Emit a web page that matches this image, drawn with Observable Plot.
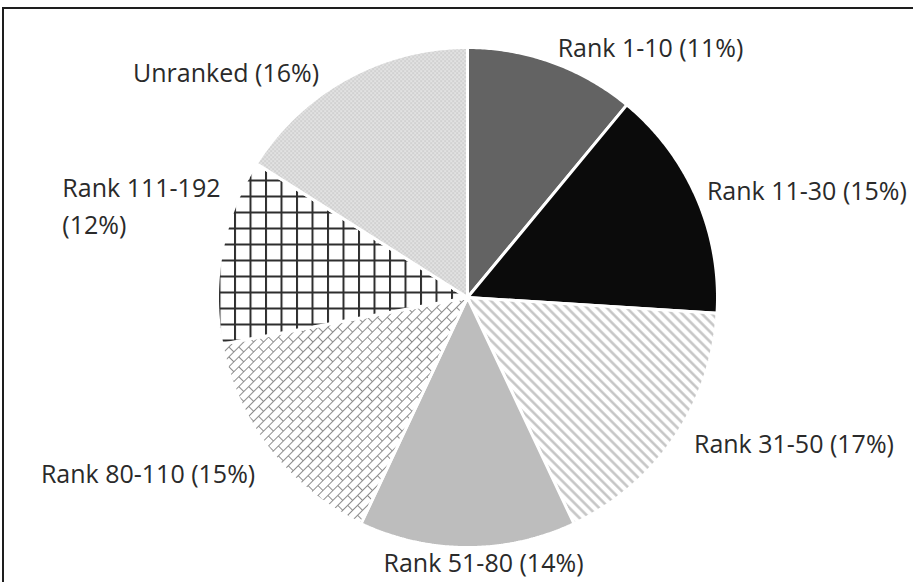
<!DOCTYPE html>
<html>
<head>
<meta charset="utf-8">
<script src="https://cdn.jsdelivr.net/npm/d3@7"></script>
<script src="https://cdn.jsdelivr.net/npm/@observablehq/plot@0.6"></script>
<style>
  html, body { margin: 0; padding: 0; background: #fff; }
  #chart { position: relative; width: 913px; height: 582px; overflow: hidden; }
  #chart svg { display: block; }
  .rule-top { position: absolute; left: 2px; top: 7px; width: 911px; height: 2px; background: #1e1e1e; }
  .rule-left { position: absolute; left: 2px; top: 7px; width: 2px; height: 575px; background: #1e1e1e; }
</style>
</head>
<body>
<div id="chart"><div class="rule-top"></div><div class="rule-left"></div></div>
<script>
// Share of entries by ranking band (percent)
const categories = ["Rank 1-10", "Rank 11-30", "Rank 31-50", "Rank 51-80", "Rank 80-110", "Rank 111-192", "Unranked"];
const shares = [11, 15, 17, 14, 15, 12, 16];

// Slice fills: solid greys or hatch patterns defined below
const sliceFills = ["#636363", "#0b0b0b", "url(#stripes)", "#bdbdbd", "url(#brick)", "url(#grid)", "url(#dots)"];

// Layout
const W = 913, H = 582;
const cx = 467, cy = 297, R = 250;
const labelRadius = 1.1;
// label placement: anchor and small pixel nudges off the radial position
const labelPlacement = [
  {anchor: "start", dx: -3, dy: 6},
  {anchor: "start", dx: -13, dy: 0},
  {anchor: "start", dx: -1, dy: -11},
  {anchor: "middle", dx: 16, dy: -12},
  {anchor: "end", dx: 5, dy: 5},
  {anchor: "start", dx: -135, dy: -42},
  {anchor: "end", dx: -16, dy: 14}
];

const arcs = d3.pie().sort(null).value(d => d)(shares);

// Polygon outline of each slice: centre, then points along its arc
const slicePoints = arcs.flatMap((a, i) => {
  const n = Math.max(2, Math.ceil((a.endAngle - a.startAngle) / (Math.PI / 360)));
  const pts = [{slice: categories[i], fill: sliceFills[i], x: 0, y: 0}];
  for (let k = 0; k <= n; ++k) {
    const t = a.startAngle + (a.endAngle - a.startAngle) * k / n;
    pts.push({slice: categories[i], fill: sliceFills[i], x: Math.sin(t), y: Math.cos(t)});
  }
  return pts;
});

const labels = arcs.map((a, i) => {
  const mid = (a.startAngle + a.endAngle) / 2;
  const p = labelPlacement[i];
  const text = categories[i] === "Rank 111-192"
    ? `${categories[i]}\n(${shares[i]}%)`
    : `${categories[i]} (${shares[i]}%)`;
  return {
    text,
    anchor: p.anchor,
    x: Math.sin(mid) * labelRadius + p.dx / R,
    y: Math.cos(mid) * labelRadius - p.dy / R
  };
});

const textStyle = {fontSize: 25, fontFamily: "'Open Sans', sans-serif", fill: "#2a2a2a", lineAnchor: "middle", lineHeight: 1.48};

const chart = Plot.plot({
  width: W,
  height: H,
  margin: 0,
  x: {domain: [-1, 1], range: [cx - R, cx + R], axis: null},
  y: {domain: [-1, 1], range: [cy + R, cy - R], axis: null},
  color: {type: "identity"},
  style: {background: "transparent", fontFamily: "'Open Sans', sans-serif"},
  marks: [
    Plot.line(slicePoints, {x: "x", y: "y", z: "slice", fill: "fill", stroke: "white", strokeWidth: 3, curve: "linear-closed", strokeLinejoin: "miter"}),
    ...["start", "middle", "end"].map(anchor =>
      Plot.text(labels.filter(d => d.anchor === anchor), {x: "x", y: "y", text: "text", textAnchor: anchor, ...textStyle})
    )
  ]
});

// Hatch patterns used by the slices
d3.select(chart).insert("defs", ":first-child").html(`
  <pattern id="stripes" patternUnits="userSpaceOnUse" width="7" height="7" patternTransform="rotate(-45)">
    <rect width="7" height="7" fill="#fff"/>
    <line x1="1.5" y1="0" x2="1.5" y2="7" stroke="#c2c2c2" stroke-width="2.4"/>
  </pattern>
  <pattern id="brick" patternUnits="userSpaceOnUse" width="14" height="14" patternTransform="rotate(-45)">
    <rect width="14" height="14" fill="#fff"/>
    <path d="M0,0.5H14M0,7.5H14M0.5,0V7M7.5,7V14" stroke="#8c8c8c" stroke-width="1" fill="none"/>
  </pattern>
  <pattern id="grid" patternUnits="userSpaceOnUse" width="15.5" height="16" x="1" y="3">
    <rect width="15.5" height="16" fill="#fff"/>
    <path d="M1,0V16M0,1H15.5" stroke="#2e2e2e" stroke-width="2" fill="none"/>
  </pattern>
  <pattern id="dots" patternUnits="userSpaceOnUse" width="4" height="4">
    <rect width="4" height="4" fill="#e2e2e2"/>
    <rect x="0" y="0" width="1.2" height="1.2" fill="#b4b4b4"/>
    <rect x="2" y="2" width="1.2" height="1.2" fill="#b4b4b4"/>
  </pattern>
`);

document.getElementById("chart").prepend(chart);
</script>
</body>
</html>
